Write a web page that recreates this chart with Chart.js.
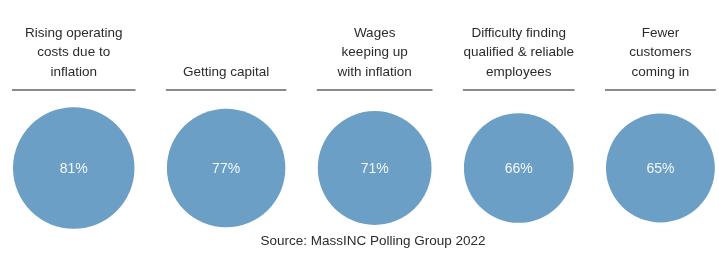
<!DOCTYPE html>
<html>
<head>
<meta charset="utf-8">
<script src="https://cdn.jsdelivr.net/npm/chart.js@4/dist/chart.umd.min.js"></script>
<style>
  body { margin: 0; background: #fff; }
  canvas { display: block; }
</style>
</head>
<body>
<canvas id="bubbles" width="719" height="259"></canvas>
<script>
// data
const labels = [
  ['Rising operating', 'costs due to', 'inflation'],
  ['Getting capital'],
  ['Wages', 'keeping up', 'with inflation'],
  ['Difficulty finding', 'qualified & reliable', 'employees'],
  ['Fewer', 'customers', 'coming in']
];
const values = [81, 77, 71, 66, 65];
const sourceText = 'Source: MassINC Polling Group 2022';

// circle area follows the value, circles sit side by side with a fixed gap
const scaleK = 6.75;
const gap = 32.4;
const radii = values.map(v => scaleK * Math.sqrt(v));
const points = [];
let edge = 13;
radii.forEach((r, i) => {
  points.push({ x: edge + r, y: 0.5, r: r, v: values[i] });
  edge += 2 * r + gap;
});

// labels, lines, percentages and source
const decor = {
  id: 'decor',
  afterDatasetsDraw(chart) {
    const ctx = chart.ctx;
    const meta = chart.getDatasetMeta(0);
    ctx.save();
    meta.data.forEach((el, i) => {
      const r = el.options.radius;
      // rule under the label
      ctx.strokeStyle = '#8a8a8a';
      ctx.lineWidth = 2;
      ctx.beginPath();
      ctx.moveTo(el.x - r - 1, 90);
      ctx.lineTo(el.x + r + 1, 90);
      ctx.stroke();
      // label lines, bottom aligned
      ctx.fillStyle = '#2b2b2b';
      ctx.font = '13.5px "Liberation Sans", Arial, sans-serif';
      ctx.textAlign = 'center';
      ctx.textBaseline = 'middle';
      const lines = labels[i];
      lines.forEach((t, j) => {
        ctx.fillText(t, el.x, 72 - (lines.length - 1 - j) * 19.5);
      });
      // value inside the circle
      ctx.fillStyle = '#f4f8fb';
      ctx.font = '14px "Liberation Sans", Arial, sans-serif';
      ctx.fillText(values[i] + '%', el.x, el.y + 1);
    });
    ctx.fillStyle = '#2b2b2b';
    ctx.font = '13.5px "Liberation Sans", Arial, sans-serif';
    ctx.textAlign = 'center';
    ctx.fillText(sourceText, 373, 241);
    ctx.restore();
  }
};

const ctx = document.getElementById('bubbles').getContext('2d');
const chart = new Chart(ctx, {
  type: 'bubble',
  data: {
    datasets: [{
      data: points,
      backgroundColor: '#6b9fc5',
      borderWidth: 0,
      hoverBorderWidth: 0,
      clip: false
    }]
  },
  options: {
    responsive: false,
    animation: false,
    layout: { autoPadding: false, padding: { top: 108, bottom: 31, left: 0, right: 0 } },
    scales: {
      x: { type: 'linear', min: 0, max: 719, display: false },
      y: { type: 'linear', min: 0, max: 1, display: false }
    },
    plugins: {
      legend: { display: false },
      tooltip: { enabled: false }
    }
  },
  plugins: [decor]
});
</script>
</body>
</html>
